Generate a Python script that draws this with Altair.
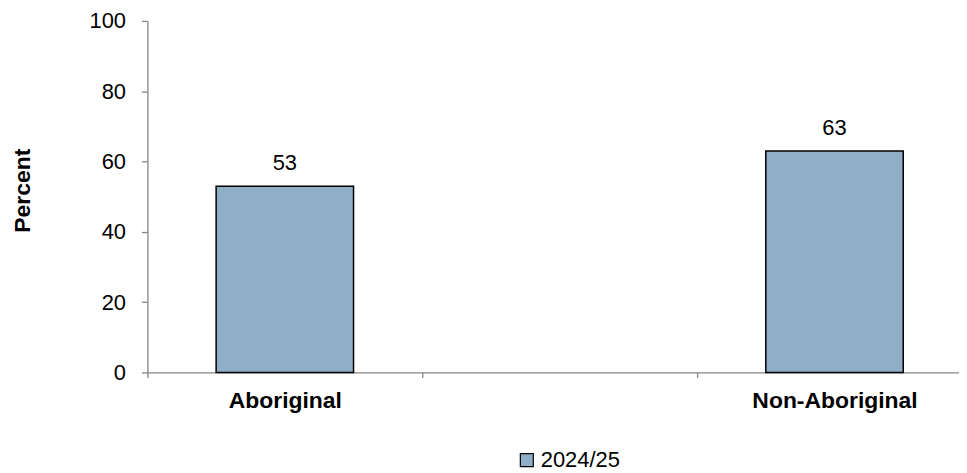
import altair as alt
import pandas as pd

categories = ["Aboriginal", "Non-Aboriginal"]
values = [53, 63]
domain = ["Aboriginal", " ", "Non-Aboriginal"]
series_name = "2024/25"

df = pd.DataFrame({"group": categories, "value": values, "series": [series_name] * len(categories)})

FONT = "Liberation Sans"
BAR = "#8FAFC6"
AXIS = "#868686"

x = alt.X(
    "group:N",
    sort=domain,
    scale=alt.Scale(domain=domain, range=[0, 828], paddingInner=0, paddingOuter=0),
    axis=alt.Axis(
        title=None, labelAngle=0, tickBand="extent", domainColor=AXIS, tickColor=AXIS,
        tickSize=5, labelFont=FONT, labelFontSize=23, labelFontWeight="bold",
        labelColor="black", labelPadding=12, domainWidth=1.3, tickWidth=1.3,
    ),
)
y = alt.Y(
    "value:Q",
    scale=alt.Scale(domain=[0, 100]),
    axis=alt.Axis(
        title="Percent", values=[0, 20, 40, 60, 80, 100], grid=False, domainColor=AXIS,
        tickColor=AXIS, tickSize=6, labelFont=FONT, labelFontSize=22, labelColor="black",
        labelPadding=16, titleFont=FONT, titleFontSize=23, titleFontWeight="bold",
        titleColor="black", titleAngle=-90, titleX=-125, titleY=170, titleAlign="center",
        titleBaseline="middle", domainWidth=1.3, tickWidth=1.3,
    ),
)

bars = alt.Chart(df).mark_bar(stroke="black", strokeWidth=1.5, width=alt.RelativeBandSize(0.5)).encode(
    x=x,
    y=y,
    color=alt.Color(
        "series:N",
        scale=alt.Scale(domain=[series_name], range=[BAR]),
        legend=alt.Legend(
            title=None, orient="none", legendX=370, legendY=430, symbolType="square",
            symbolSize=169, symbolStrokeColor="black", symbolStrokeWidth=1.2,
            labelFont=FONT, labelFontSize=22, labelColor="black", padding=0, labelOffset=3,
        ),
    ),
)

labels = alt.Chart(df).mark_text(font=FONT, fontSize=22, color="black", baseline="alphabetic", dy=-16).encode(
    x=alt.X("group:N", sort=domain, scale=alt.Scale(domain=domain, range=[0, 828], paddingInner=0, paddingOuter=0)),
    y="value:Q",
    text=alt.Text("value:Q", format=".0f"),
)

chart = (
    alt.layer(bars, labels)
    .properties(
        width=815,
        height=353,
        autosize=alt.AutoSizeParams(type="none"),
        padding={"left": 140, "top": 12, "right": 0, "bottom": 100},
    )
    .configure_view(stroke=None)
)

chart.save("out.html", embed_options={"renderer": "svg", "actions": False})
